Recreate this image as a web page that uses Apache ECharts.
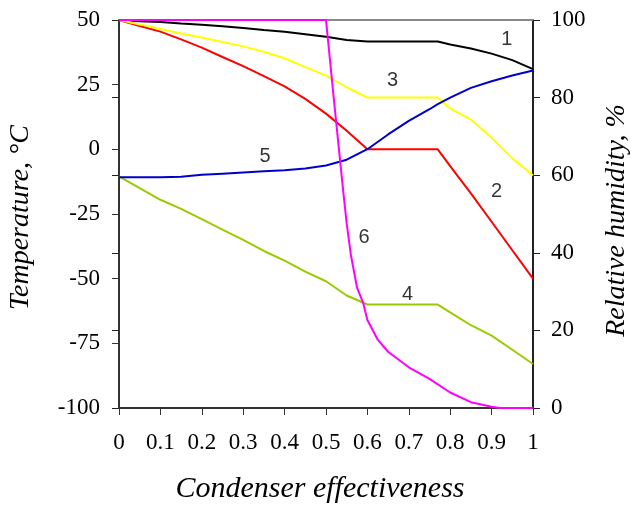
<!DOCTYPE html>
<html>
<head>
<meta charset="utf-8">
<script src="https://cdn.jsdelivr.net/npm/echarts@6/dist/echarts.min.js"></script>
<style>
  html, body { margin: 0; padding: 0; background: #fff; }
  #chart { width: 631px; height: 508px; }
</style>
</head>
<body>
<div id="chart"></div>
<script>
// effectiveness grid shared by curves 1-5 (0.77 = end of the plateau)
var effectiveness = [0, 0.05, 0.1, 0.15, 0.2, 0.25, 0.3, 0.35, 0.4, 0.45, 0.5, 0.55, 0.6, 0.65, 0.7, 0.75, 0.77, 0.8, 0.85, 0.9, 0.95, 1];

// temperatures, °C (left axis)
var curve1 = [50, 49.5, 49.2, 48.6, 48.2, 47.6, 46.9, 46.1, 45.5, 44.5, 43.5, 42.3, 41.7, 41.7, 41.7, 41.7, 41.7, 40.5, 39, 37, 34.5, 31];
var curve2 = [50, 47.7, 45.5, 42.5, 39.3, 35.7, 32.2, 28.3, 24.3, 19.5, 13.8, 7.2, 0, 0, 0, 0, 0, -6.5, -17, -28, -39, -50];
var curve3 = [50, 48.3, 46.5, 44.8, 43.2, 41.5, 39.8, 37.7, 35.2, 31.8, 28.5, 24, 20, 20, 20, 20, 20, 15.8, 11.5, 4.5, -3.5, -10];
var curve4 = [-10.5, -15, -19.5, -23, -27, -31, -35, -39.3, -43, -47.3, -51, -56.5, -60, -60, -60, -60, -60, -63, -68, -72, -77.5, -83];

// relative humidity, % (right axis)
var curve5 = [59.5, 59.5, 59.5, 59.6, 60.1, 60.4, 60.7, 61, 61.3, 61.7, 62.5, 64, 66.7, 70.5, 74, 77, 78.3, 80, 82.5, 84.2, 85.7, 87];
var effectiveness6 = [0, 0.5, 0.52, 0.54, 0.55, 0.56, 0.575, 0.59, 0.6, 0.625, 0.65, 0.7, 0.75, 0.8, 0.85, 0.9, 0.92, 1];
var curve6 = [100, 100, 78.5, 57.5, 47.5, 39.5, 31, 27, 22.7, 17.6, 14.5, 10.5, 7.5, 4, 1.5, 0.3, 0, 0];

// curve numbers: [effectiveness, temperature, text]
var curveLabels = [[0.937, 42.6, '1'], [0.912, -16.2, '2'], [0.661, 26.6, '3'], [0.697, -56.1, '4'], [0.353, -2.7, '5'], [0.592, -34.2, '6']];

var tempTicks = [-100, 50, 25];
var rhTicks = [0, 100, 20];

function pairs(xs, ys) {
    return xs.map(function (x, i) { return [x, ys[i]]; });
}

function lineSeries(name, xs, ys, color, axis) {
    return {
        name: name,
        type: 'line',
        yAxisIndex: axis,
        data: pairs(xs, ys),
        symbol: 'none',
        lineStyle: { color: color, width: 2 },
        animation: false
    };
}

var serif = 'Liberation Serif';
var sans = 'Liberation Sans';
var axisColor = '#333';
var titleStyle = { fontFamily: serif, fontStyle: 'italic', fontSize: 28, color: '#000' };
var tickFont = { fontFamily: serif, fontSize: 23, color: '#000' };

var chart = echarts.init(document.getElementById('chart'));
chart.setOption({
    backgroundColor: '#fff',
    animation: false,
    grid: { left: 119, right: 98, top: 20, bottom: 100, outerBoundsMode: 'none', containLabel: false },
    xAxis: [{
        type: 'value',
        min: 0, max: 1, interval: 0.1,
        name: 'Condenser effectiveness',
        nameLocation: 'middle',
        nameGap: 66,
        nameTextStyle: Object.assign({}, titleStyle, { fontSize: 30, padding: [0, 12, 0, 0] }),
        axisLine: { onZero: false, lineStyle: { color: axisColor, width: 2 } },
        axisTick: { length: 7, lineStyle: { color: axisColor } },
        axisLabel: Object.assign({ margin: 23 }, tickFont),
        splitLine: { show: false }
    }, {
        type: 'value', position: 'top', min: 0, max: 1,
        axisLine: { show: true, onZero: false, lineStyle: { color: '#888', width: 2 } },
        axisTick: { show: false }, axisLabel: { show: false }, splitLine: { show: false }
    }],
    yAxis: [{
        type: 'value',
        position: 'left',
        min: tempTicks[0], max: tempTicks[1], interval: tempTicks[2],
        name: 'Temperature, °C',
        nameLocation: 'middle',
        nameGap: 84,
        nameTextStyle: Object.assign({ padding: [0, 7, 0, 0] }, titleStyle),
        axisLine: { show: true, onZero: false, lineStyle: { color: axisColor, width: 2 } },
        axisTick: { show: true, length: 7, lineStyle: { color: axisColor } },
        axisLabel: Object.assign({ margin: 19 }, tickFont),
        splitLine: { show: false }
    }, {
        type: 'value',
        position: 'right',
        min: rhTicks[0], max: rhTicks[1], interval: rhTicks[2],
        name: 'Relative humidity, %',
        nameLocation: 'middle',
        nameGap: 70,
        nameTextStyle: Object.assign({ padding: [0, 13, 0, 0] }, titleStyle),
        axisLine: { show: true, onZero: false, lineStyle: { color: '#222', width: 2 } },
        axisTick: { show: true, length: 7, lineStyle: { color: '#222' } },
        axisLabel: Object.assign({ margin: 18 }, tickFont),
        splitLine: { show: false }
    }, {
        // inner half of the right-hand ticks
        type: 'value',
        position: 'right',
        min: rhTicks[0], max: rhTicks[1], interval: rhTicks[2],
        axisLine: { show: false },
        axisTick: { show: true, inside: true, length: 7, lineStyle: { color: '#222' } },
        axisLabel: { show: false },
        splitLine: { show: false }
    }],
    series: [
        lineSeries('1', effectiveness, curve1, '#000000', 0),
        lineSeries('2', effectiveness, curve2, '#ff0000', 0),
        lineSeries('3', effectiveness, curve3, '#ffff00', 0),
        lineSeries('4', effectiveness, curve4, '#99cc00', 0),
        lineSeries('5', effectiveness, curve5, '#0000cc', 1),
        lineSeries('6', effectiveness6, curve6, '#ff00ff', 1),
        {
            type: 'scatter',
            yAxisIndex: 0,
            symbolSize: 0,
            data: curveLabels,
            label: {
                show: true,
                position: 'inside',
                formatter: function (p) { return p.data[2]; },
                fontFamily: sans,
                fontSize: 20,
                color: '#000'
            },
            silent: true,
            animation: false
        }
    ]
});
</script>
</body>
</html>
